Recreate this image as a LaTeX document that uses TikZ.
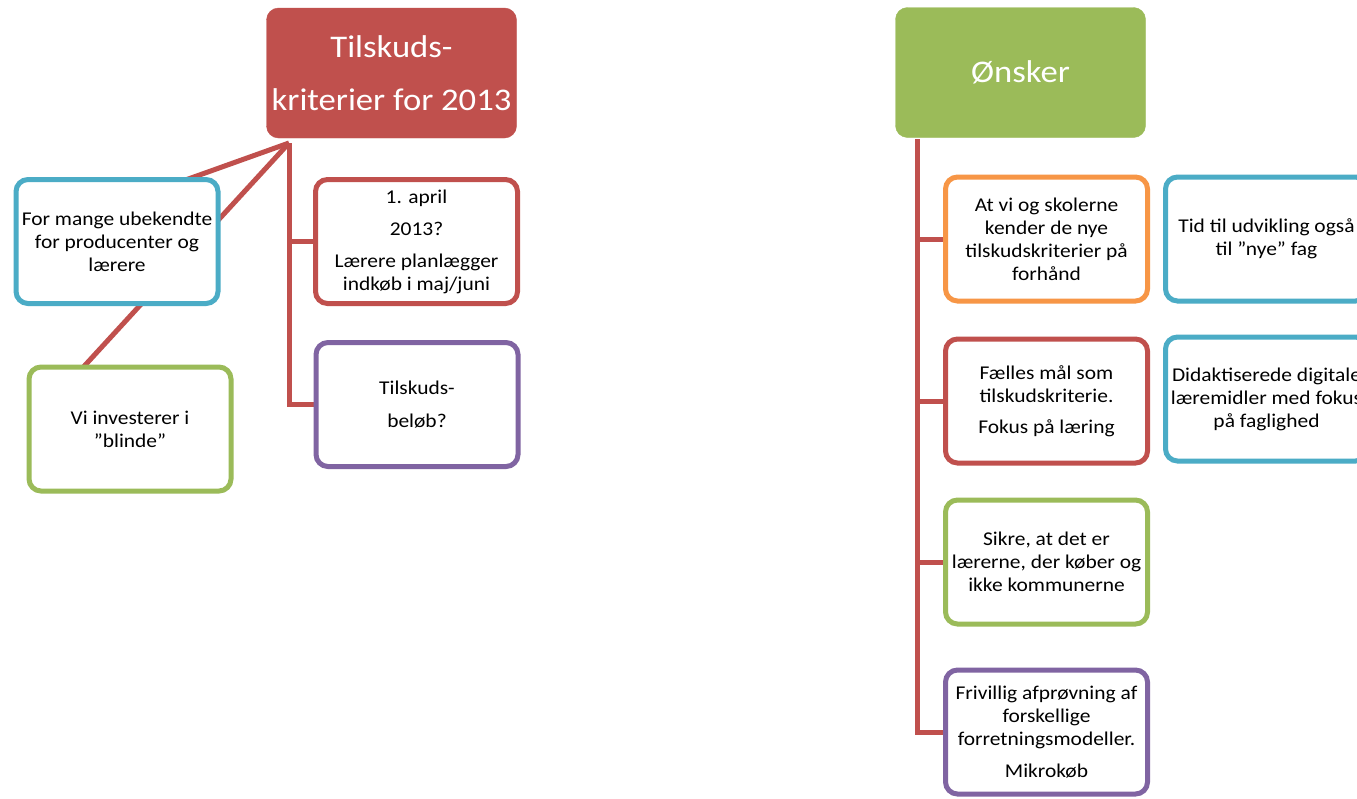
\documentclass[tikz,border=0pt]{standalone}
\usepackage{fontspec}
\setmainfont{Carlito}[FakeStretch=1.1]
\usetikzlibrary{backgrounds}
\definecolor{cred}{HTML}{C0504D}
\definecolor{cgreen}{HTML}{9BBB59}
\definecolor{cblue}{HTML}{4BACC6}
\definecolor{corange}{HTML}{F79646}
\definecolor{cpurple}{HTML}{8064A2}
\tikzset{
  box/.style={draw=#1, line width=5pt, fill=white, rounded corners=12pt,
    minimum width=202pt, minimum height=124pt, align=center, inner sep=2pt,
    font=\fontsize{19.5}{23}\selectfont, text=black},
  titlebox/.style={fill=#1, draw=#1, rounded corners=12pt, minimum width=250pt,
    minimum height=130pt, align=center, text=white, font=\fontsize{31.5}{53}\selectfont},
  conn/.style={draw=cred, line width=5pt}
}
\begin{document}
\begin{tikzpicture}[x=1pt,y=-1pt]
\clip (0,0) rectangle (1357,798);
% left tree
\node[titlebox=cred] (t1) at (391.5,73) {Tilskuds-\\kriterier for 2013};
\node[box=cred] (b1) at (416.5,241.5) {1. april\\[9pt]2013?\\[9pt]Lærere planlægger\\indkøb i maj/juni};
\node[box=cpurple] (b2) at (417,404.5) {Tilskuds-\\[10pt]beløb?};
\node[box=cblue] (bl) at (117,241.5) {For mange ubekendte\\for producenter og\\lærere};
\node[box=cgreen] (gl) at (130,429) {Vi investerer i\\”blinde”};
\coordinate (lroot) at (289,143);
% right tree
\node[titlebox=cgreen] (t2) at (1020.5,72.5) {Ønsker};
\node[box=corange] (r1) at (1046.5,239) {At vi og skolerne\\kender de nye\\tilskudskriterier på\\forhånd};
\node[box=cred] (r2) at (1046.5,401) {Fælles mål som\\tilskudskriterie.\\[8pt]Fokus på læring};
\node[box=cgreen] (r3) at (1046.5,562) {Sikre, at det er\\lærerne, der køber og\\ikke kommunerne};
\node[box=cpurple] (r4) at (1046.5,732) {Frivillig afprøvning af\\forskellige\\forretningsmodeller.\\[9pt]Mikrokøb};
\node[box=cblue] (s1) at (1266.5,239) {Tid til udvikling også\\til ”nye” fag};
\node[box=cblue] (s2) at (1266.5,399) {Didaktiserede digitale\\læremidler med fokus\\på faglighed};
\coordinate (rroot) at (917,139);
\begin{pgfonlayer}{background}
\fill[white] (0,0) rectangle (1357,798);
\draw[conn] (lroot) |- (b1.west);
\draw[conn] (lroot) |- (b2.west);
\draw[conn, shorten >=12pt] (lroot) -- (bl.west);
\draw[conn, shorten >=12pt] (lroot) -- (gl.west);
\draw[conn] (rroot) |- (r1.west);
\draw[conn] (rroot) |- (r2.west);
\draw[conn] (rroot) |- (r3.west);
\draw[conn] (rroot) |- (r4.west);
\end{pgfonlayer}
\end{tikzpicture}
\end{document}
